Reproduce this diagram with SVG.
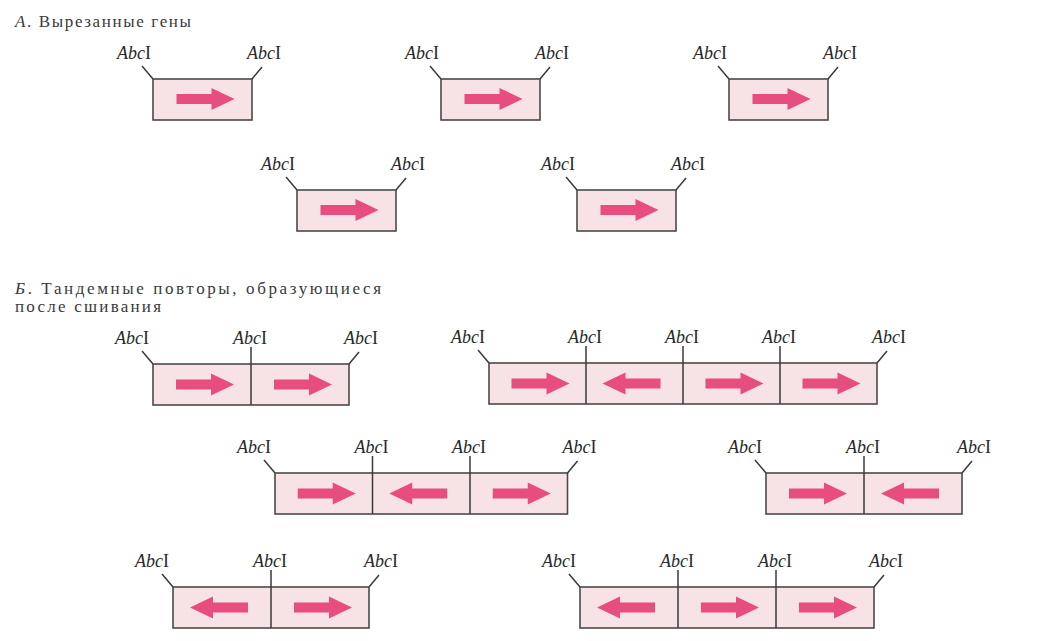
<svg xmlns="http://www.w3.org/2000/svg" xmlns:xlink="http://www.w3.org/1999/xlink" width="1040" height="641" viewBox="0 0 1040 641">
<style>
.bx{fill:#f7e3e5;stroke:#4a4a4a;stroke-width:1.6}
.tk{stroke:#3a3a3a;stroke-width:1.5;fill:none}
.lb{font-family:"Liberation Serif",serif;font-size:18px;fill:#2a2a2a}
.tt{font-family:"Liberation Serif",serif;font-size:17px;fill:#3a3a3a}
.ar{fill:#e84d7f}
</style>
<defs>
<path id="ar" class="ar" d="M-26,-5 H9 V-11 L32,0 L9,11 V5 H-26 Z"/>
</defs>
<rect width="1040" height="641" fill="#ffffff"/>
<g id="titles">
<text class="tt" x="15" y="27" textLength="176" lengthAdjust="spacing"><tspan font-style="italic">А</tspan>. Вырезанные гены</text>
<text class="tt" x="15" y="294" textLength="366" lengthAdjust="spacing"><tspan font-style="italic">Б</tspan>. Тандемные повторы, образующиеся</text>
<text class="tt" x="15" y="312" textLength="146" lengthAdjust="spacing">после сшивания</text>
</g>

<g id="A1" transform="translate(153,79)">
<rect class="bx" x="0" y="0" width="99" height="41"/>
<g class="connectors"><path class="tk" d="M-11,-13 L0,0 M109,-12 L99,0"/></g>
<text class="lb" x="-36" y="-20"><tspan font-style="italic">Abc</tspan>I</text>
<text class="lb" x="94" y="-20"><tspan font-style="italic">Abc</tspan>I</text>
<use href="#ar" transform="translate(49.5,20)"/>
</g>
<g id="A2" transform="translate(441,79)">
<rect class="bx" x="0" y="0" width="99" height="41"/>
<g class="connectors"><path class="tk" d="M-11,-13 L0,0 M109,-12 L99,0"/></g>
<text class="lb" x="-36" y="-20"><tspan font-style="italic">Abc</tspan>I</text>
<text class="lb" x="94" y="-20"><tspan font-style="italic">Abc</tspan>I</text>
<use href="#ar" transform="translate(49.5,20)"/>
</g>
<g id="A3" transform="translate(729,79)">
<rect class="bx" x="0" y="0" width="99" height="41"/>
<g class="connectors"><path class="tk" d="M-11,-13 L0,0 M109,-12 L99,0"/></g>
<text class="lb" x="-36" y="-20"><tspan font-style="italic">Abc</tspan>I</text>
<text class="lb" x="94" y="-20"><tspan font-style="italic">Abc</tspan>I</text>
<use href="#ar" transform="translate(49.5,20)"/>
</g>
<g id="A4" transform="translate(297,190)">
<rect class="bx" x="0" y="0" width="99" height="41"/>
<g class="connectors"><path class="tk" d="M-11,-13 L0,0 M109,-12 L99,0"/></g>
<text class="lb" x="-36" y="-20"><tspan font-style="italic">Abc</tspan>I</text>
<text class="lb" x="94" y="-20"><tspan font-style="italic">Abc</tspan>I</text>
<use href="#ar" transform="translate(49.5,20)"/>
</g>
<g id="A5" transform="translate(577,190)">
<rect class="bx" x="0" y="0" width="99" height="41"/>
<g class="connectors"><path class="tk" d="M-11,-13 L0,0 M109,-12 L99,0"/></g>
<text class="lb" x="-36" y="-20"><tspan font-style="italic">Abc</tspan>I</text>
<text class="lb" x="94" y="-20"><tspan font-style="italic">Abc</tspan>I</text>
<use href="#ar" transform="translate(49.5,20)"/>
</g>

<g id="B1" transform="translate(153,364)">
<rect class="bx" x="0" y="0" width="196" height="41"/>
<g class="connectors"><path class="tk" d="M-11,-13 L0,0 M206,-12 L196,0 M98,-17 V41"/></g>
<text class="lb" x="-38" y="-20"><tspan font-style="italic">Abc</tspan>I</text>
<text class="lb" x="97" y="-20" text-anchor="middle"><tspan font-style="italic">Abc</tspan>I</text>
<text class="lb" x="191" y="-20"><tspan font-style="italic">Abc</tspan>I</text>
<use href="#ar" transform="translate(49,20.5)"/>
<use href="#ar" transform="translate(147,20.5)"/>
</g>
<g id="B2" transform="translate(489,363)">
<rect class="bx" x="0" y="0" width="388" height="41"/>
<g class="connectors"><path class="tk" d="M-11,-13 L0,0 M398,-12 L388,0 M97,-17 V41 M194,-17 V41 M291,-17 V41"/></g>
<text class="lb" x="-38" y="-20"><tspan font-style="italic">Abc</tspan>I</text>
<text class="lb" x="96" y="-20" text-anchor="middle"><tspan font-style="italic">Abc</tspan>I</text>
<text class="lb" x="193" y="-20" text-anchor="middle"><tspan font-style="italic">Abc</tspan>I</text>
<text class="lb" x="290" y="-20" text-anchor="middle"><tspan font-style="italic">Abc</tspan>I</text>
<text class="lb" x="383" y="-20"><tspan font-style="italic">Abc</tspan>I</text>
<use href="#ar" transform="translate(48.5,20.5)"/>
<use href="#ar" transform="translate(145.5,20.5) scale(-1,1)"/>
<use href="#ar" transform="translate(242.5,20.5)"/>
<use href="#ar" transform="translate(339.5,20.5)"/>
</g>
<g id="B3" transform="translate(275,473)">
<rect class="bx" x="0" y="0" width="292.5" height="41"/>
<g class="connectors"><path class="tk" d="M-11,-13 L0,0 M302.5,-12 L292.5,0 M97.5,-17 V41 M195,-17 V41"/></g>
<text class="lb" x="-38" y="-20"><tspan font-style="italic">Abc</tspan>I</text>
<text class="lb" x="96.5" y="-20" text-anchor="middle"><tspan font-style="italic">Abc</tspan>I</text>
<text class="lb" x="194" y="-20" text-anchor="middle"><tspan font-style="italic">Abc</tspan>I</text>
<text class="lb" x="287.5" y="-20"><tspan font-style="italic">Abc</tspan>I</text>
<use href="#ar" transform="translate(48.75,20.5)"/>
<use href="#ar" transform="translate(146.25,20.5) scale(-1,1)"/>
<use href="#ar" transform="translate(243.75,20.5)"/>
</g>
<g id="B4" transform="translate(766,473)">
<rect class="bx" x="0" y="0" width="196" height="41"/>
<g class="connectors"><path class="tk" d="M-11,-13 L0,0 M206,-12 L196,0 M98,-17 V41"/></g>
<text class="lb" x="-38" y="-20"><tspan font-style="italic">Abc</tspan>I</text>
<text class="lb" x="97" y="-20" text-anchor="middle"><tspan font-style="italic">Abc</tspan>I</text>
<text class="lb" x="191" y="-20"><tspan font-style="italic">Abc</tspan>I</text>
<use href="#ar" transform="translate(49,20.5)"/>
<use href="#ar" transform="translate(147,20.5) scale(-1,1)"/>
</g>
<g id="B5" transform="translate(173,587)">
<rect class="bx" x="0" y="0" width="196" height="41"/>
<g class="connectors"><path class="tk" d="M-11,-13 L0,0 M206,-12 L196,0 M98,-17 V41"/></g>
<text class="lb" x="-38" y="-20"><tspan font-style="italic">Abc</tspan>I</text>
<text class="lb" x="97" y="-20" text-anchor="middle"><tspan font-style="italic">Abc</tspan>I</text>
<text class="lb" x="191" y="-20"><tspan font-style="italic">Abc</tspan>I</text>
<use href="#ar" transform="translate(49,20.5) scale(-1,1)"/>
<use href="#ar" transform="translate(147,20.5)"/>
</g>
<g id="B6" transform="translate(580,587)">
<rect class="bx" x="0" y="0" width="294" height="41"/>
<g class="connectors"><path class="tk" d="M-11,-13 L0,0 M304,-12 L294,0 M98,-17 V41 M196,-17 V41"/></g>
<text class="lb" x="-38" y="-20"><tspan font-style="italic">Abc</tspan>I</text>
<text class="lb" x="97" y="-20" text-anchor="middle"><tspan font-style="italic">Abc</tspan>I</text>
<text class="lb" x="195" y="-20" text-anchor="middle"><tspan font-style="italic">Abc</tspan>I</text>
<text class="lb" x="289" y="-20"><tspan font-style="italic">Abc</tspan>I</text>
<use href="#ar" transform="translate(49,20.5) scale(-1,1)"/>
<use href="#ar" transform="translate(147,20.5)"/>
<use href="#ar" transform="translate(245,20.5)"/>
</g>
</svg>
